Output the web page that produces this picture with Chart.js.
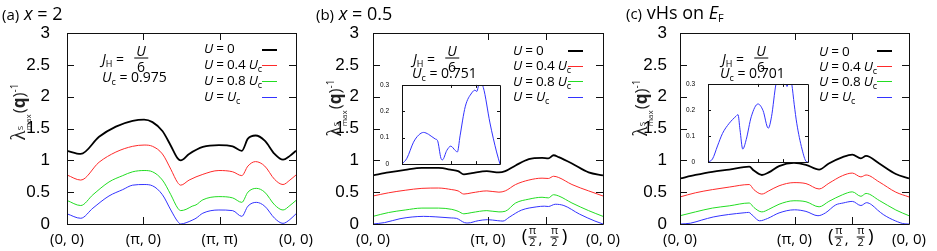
<!DOCTYPE html>
<html>
<head>
<meta charset="utf-8">
<script src="https://cdn.jsdelivr.net/npm/chart.js@4.4.1/dist/chart.umd.min.js"></script>
<style>
    body { margin: 0; background: #fff; }
    #wrap { position: relative; width: 937px; height: 251px; overflow: hidden; font-family: "Open Sans", sans-serif; color: #000; }
    canvas { position: absolute; }
    .t { position: absolute; white-space: nowrap; line-height: 1; transform: translateY(-50%); }
    .ttl { font-size: 18px; }
    .ttl .p { font-size: 15px; }
    .ann { font-size: 14px; }
    .ann sub, .lg sub { font-size: 9px; vertical-align: -3px; }
    .frac { position: absolute; display: flex; flex-direction: column; align-items: center; font-size: 14px; line-height: 13px; transform: translate(-50%, -50%); }
    .frac .n { border-bottom: 1px solid #000; padding: 0 2px 1px; }
    .frac .d { padding-top: 1px; }
    .lg { font-size: 13.5px; letter-spacing: -0.2px; }
    .smp { position: absolute; width: 15px; }
    .yt { position: absolute; white-space: nowrap; font-size: 17px; transform: translate(-50%, -50%) rotate(-90deg); color: #222; }
    .yt .lam { font-family: "Liberation Serif", serif; font-size: 21px; }
    .yt .ss { display: inline-flex; flex-direction: column; font-size: 8px; line-height: 8px; vertical-align: 2px; margin-right: 1px; }
    .yt sup { font-size: 10px; }
</style>
</head>
<body>
<div id="wrap">
    <canvas id="chartA" width="937" height="251"></canvas>
    <canvas id="chartB" width="937" height="251"></canvas>
    <canvas id="chartC" width="937" height="251"></canvas>
    <canvas id="insetB" width="125" height="97" style="left:380px;top:76px"></canvas>
    <canvas id="insetC" width="127" height="96" style="left:686px;top:75px"></canvas>

    <!-- titulos -->
    <div class="t ttl" style="left:2px;top:13px"><span class="p">(a)</span> <i>x</i> = 2</div>
    <div class="t ttl" style="left:316px;top:13px"><span class="p">(b)</span> <i>x</i> = 0.5</div>
    <div class="t ttl" style="left:626px;top:13px"><span class="p">(c)</span> vHs on <i>E</i><sub style="font-size:11px;vertical-align:-3px">F</sub></div>

    <!-- eixo y -->
    <div class="yt" style="left:19px;top:112px"><span class="lam">λ</span><span class="ss"><span>S</span><span>max</span></span>(<b>q</b>)<sup>-1</sup></div>
    <div class="yt" style="left:335px;top:108px"><span class="lam">λ</span><span class="ss"><span>S</span><span>max</span></span>(<b>q</b>)<sup>-1</sup></div>
    <div class="yt" style="left:641px;top:108px"><span class="lam">λ</span><span class="ss"><span>S</span><span>max</span></span>(<b>q</b>)<sup>-1</sup></div>

    <!-- anotacoes -->
    <div class="t ann" style="left:102px;top:60px"><i>J</i><sub>H</sub> =</div>
    <div class="frac" style="left:141px;top:58px"><span class="n"><i>U</i></span><span class="d">6</span></div>
    <div class="t ann" style="left:102px;top:78px"><i>U</i><sub>c</sub> = 0.975</div>

    <div class="t ann" style="left:413px;top:60px"><i>J</i><sub>H</sub> =</div>
    <div class="frac" style="left:452px;top:58px"><span class="n"><i>U</i></span><span class="d">6</span></div>
    <div class="t ann" style="left:412px;top:74px"><i>U</i><sub>c</sub> = 0.751</div>

    <div class="t ann" style="left:722px;top:60px"><i>J</i><sub>H</sub> =</div>
    <div class="frac" style="left:761px;top:58px"><span class="n"><i>U</i></span><span class="d">6</span></div>
    <div class="t ann" style="left:720px;top:74px"><i>U</i><sub>c</sub> = 0.701</div>

    <!-- legendas -->
    <div class="t lg" style="left:204px;top:49px"><i>U</i> = 0</div>
    <div class="t lg" style="left:204px;top:65px"><i>U</i> = 0.4 <i>U</i><sub>c</sub></div>
    <div class="t lg" style="left:204px;top:81px"><i>U</i> = 0.8 <i>U</i><sub>c</sub></div>
    <div class="t lg" style="left:204px;top:97px"><i>U</i> = <i>U</i><sub>c</sub></div>
    <div class="smp" style="left:262px;top:49px;height:2px;background:#000"></div>
    <div class="smp" style="left:262px;top:65px;height:1px;background:#ff2a2a"></div>
    <div class="smp" style="left:262px;top:81px;height:1px;background:#22dd22"></div>
    <div class="smp" style="left:262px;top:97px;height:1px;background:#3333ff"></div>

    <div class="t lg" style="left:513px;top:51px"><i>U</i> = 0</div>
    <div class="t lg" style="left:513px;top:66px"><i>U</i> = 0.4 <i>U</i><sub>c</sub></div>
    <div class="t lg" style="left:513px;top:82px"><i>U</i> = 0.8 <i>U</i><sub>c</sub></div>
    <div class="t lg" style="left:513px;top:97px"><i>U</i> = <i>U</i><sub>c</sub></div>
    <div class="smp" style="left:568px;top:50px;height:2px;background:#000"></div>
    <div class="smp" style="left:568px;top:66px;height:1px;background:#ff2a2a"></div>
    <div class="smp" style="left:568px;top:81px;height:1px;background:#22dd22"></div>
    <div class="smp" style="left:568px;top:97px;height:1px;background:#3333ff"></div>

    <div class="t lg" style="left:819px;top:52px"><i>U</i> = 0</div>
    <div class="t lg" style="left:819px;top:67px"><i>U</i> = 0.4 <i>U</i><sub>c</sub></div>
    <div class="t lg" style="left:819px;top:82px"><i>U</i> = 0.8 <i>U</i><sub>c</sub></div>
    <div class="t lg" style="left:819px;top:97px"><i>U</i> = <i>U</i><sub>c</sub></div>
    <div class="smp" style="left:877px;top:50px;height:2px;background:#000"></div>
    <div class="smp" style="left:877px;top:66px;height:1px;background:#ff2a2a"></div>
    <div class="smp" style="left:877px;top:81px;height:1px;background:#22dd22"></div>
    <div class="smp" style="left:877px;top:97px;height:1px;background:#3333ff"></div>
</div>

<script>
// (a) x = 2 : caminho (0,0)-(pi,0)-(pi,pi)-(0,0)
const aTicks = [0, 1, 2, 3];
const aTickLabels = ['(0, 0)', '(π, 0)', '(π, π)', '(0, 0)'];
const aX = [0, 0.18, 0.42, 0.64, 0.86, 1.01, 1.12, 1.25, 1.36, 1.45, 1.49, 1.60, 1.78, 1.99, 2.17, 2.29, 2.37, 2.47, 2.59, 2.72, 2.83, 2.92, 3.0];
const aU0 = [1.15, 1.10, 1.37, 1.53, 1.62, 1.64, 1.60, 1.46, 1.23, 1.03, 1.00, 1.10, 1.21, 1.24, 1.22, 1.15, 1.34, 1.39, 1.31, 1.10, 1.01, 1.07, 1.15];
const aU04 = [0.77, 0.69, 0.97, 1.13, 1.22, 1.24, 1.22, 1.10, 0.86, 0.65, 0.61, 0.69, 0.78, 0.84, 0.82, 0.76, 0.91, 0.98, 0.91, 0.70, 0.62, 0.69, 0.77];
const aXlow = [0, 0.18, 0.34, 0.55, 0.73, 0.86, 1.01, 1.12, 1.25, 1.36, 1.45, 1.49, 1.56, 1.64, 1.69, 1.78, 1.99, 2.17, 2.29, 2.37, 2.48, 2.59, 2.72, 2.83, 2.92, 3.0];
const aU08 = [0.37, 0.29, 0.46, 0.66, 0.76, 0.82, 0.84, 0.82, 0.69, 0.46, 0.25, 0.21, 0.23, 0.28, 0.30, 0.38, 0.43, 0.41, 0.34, 0.50, 0.56, 0.50, 0.30, 0.22, 0.29, 0.37];
const aUc = [0.16, 0.09, 0.25, 0.44, 0.54, 0.61, 0.62, 0.60, 0.46, 0.22, 0.04, 0.0, 0.02, 0.06, 0.09, 0.17, 0.22, 0.21, 0.12, 0.28, 0.34, 0.28, 0.09, 0.01, 0.07, 0.16];

// (b) x = 0.5 : caminho (0,0)-(pi,0)-(pi/2,pi/2)-(0,0)
const bTicks = [0, 2, 3, 4];
const bTickLabels = ['(0, 0)', '(π, 0)', 'frac', '(0, 0)'];
const bX = [0, 0.27, 0.56, 0.85, 1.14, 1.37, 1.48, 1.58, 1.72, 1.98, 2.19, 2.30, 2.48, 2.71, 2.94, 3.05, 3.14, 3.23, 3.46, 3.75, 4.0];
const bU0 = [0.765, 0.81, 0.85, 0.88, 0.88, 0.85, 0.83, 0.78, 0.80, 0.83, 0.81, 0.83, 0.92, 1.02, 1.04, 1.03, 1.08, 1.05, 0.95, 0.81, 0.765];
const bU04 = [0.44, 0.49, 0.53, 0.56, 0.565, 0.54, 0.52, 0.47, 0.49, 0.52, 0.50, 0.52, 0.62, 0.69, 0.72, 0.715, 0.75, 0.73, 0.62, 0.52, 0.44];
const bU08 = [0.12, 0.18, 0.22, 0.25, 0.25, 0.23, 0.20, 0.16, 0.18, 0.21, 0.19, 0.20, 0.33, 0.39, 0.42, 0.41, 0.46, 0.44, 0.33, 0.21, 0.12];
const bXc = [0, 0.2, 0.47, 0.68, 0.88, 1.08, 1.36, 1.45, 1.59, 1.65, 1.83, 1.99, 2.17, 2.26, 2.37, 2.58, 2.85, 2.98, 3.05, 3.17, 3.32, 3.59, 3.86, 4.0];
const bUc = [0, 0.022, 0.083, 0.11, 0.12, 0.113, 0.095, 0.089, 0.022, 0.016, 0.052, 0.068, 0.052, 0.046, 0.107, 0.217, 0.27, 0.28, 0.275, 0.31, 0.29, 0.156, 0.046, 0];

// (c) vHs on E_F
const cTicks = [0, 2, 3, 4];
const cTickLabels = ['(0, 0)', '(π, 0)', 'frac', '(0, 0)'];
const cX = [0, 0.27, 0.565, 0.86, 1.21, 1.29, 1.43, 1.55, 1.73, 1.99, 2.20, 2.43, 2.60, 2.84, 3.01, 3.16, 3.25, 3.48, 3.77, 4.0];
const cU0 = [0.715, 0.77, 0.82, 0.855, 0.90, 0.84, 0.77, 0.81, 0.91, 0.96, 0.93, 0.855, 0.95, 1.05, 1.09, 1.03, 1.07, 0.95, 0.785, 0.715];
const cU04 = [0.425, 0.49, 0.54, 0.58, 0.62, 0.54, 0.47, 0.52, 0.60, 0.65, 0.635, 0.55, 0.64, 0.76, 0.80, 0.74, 0.77, 0.66, 0.50, 0.425];
const cU08 = [0.13, 0.19, 0.25, 0.285, 0.33, 0.26, 0.19, 0.23, 0.31, 0.365, 0.35, 0.27, 0.355, 0.46, 0.505, 0.435, 0.48, 0.37, 0.22, 0.13];
const cXc = [0, 0.18, 0.38, 0.58, 0.85, 1.12, 1.2, 1.28, 1.39, 1.53, 1.73, 2.0, 2.2, 2.41, 2.54, 2.72, 2.85, 3.01, 3.16, 3.26, 3.35, 3.45, 3.55, 3.76, 3.93, 4.0];
const cUc = [0, 0.012, 0.062, 0.11, 0.149, 0.176, 0.182, 0.124, 0.05, 0.087, 0.174, 0.223, 0.198, 0.13, 0.174, 0.30, 0.33, 0.355, 0.29, 0.335, 0.30, 0.22, 0.149, 0.05, 0.002, 0];

const corPreto = '#000000';
const corVermelho = '#ff2a2a';
const corVerde = '#22dd22';
const corAzul = '#3333ff';

function pts(xs, ys) {
    return xs.map((x, i) => ({ x: x, y: ys[i] }));
}

// 3.0 -> "3", 0.30000000000000004 -> "0.3"
function fmtTick(value) {
    return String(Number(value.toFixed(2)));
}

function drawFracLabel(ctx, px, cy) {
    ctx.textAlign = 'center';
    ctx.textBaseline = 'middle';
    ctx.font = '19px "Open Sans"';
    ctx.fillText('(', px - 21, cy);
    ctx.fillText(')', px + 19, cy);
    ctx.font = '15px "Open Sans"';
    ctx.fillText(',', px - 5, cy + 3);
    ctx.font = '11px "Open Sans"';
    [px - 13, px + 9].forEach(fx => {
        ctx.fillText('π', fx, cy - 6);
        ctx.fillText('2', fx, cy + 6);
        ctx.fillRect(fx - 4, cy - 0.5, 8, 1);
    });
}

// moldura, ticks para dentro e rotulos do eixo x
const framePlugin = {
    id: 'frame',
    beforeDatasetsDraw(chart, args, opts) {
        if (!opts.fill) return;
        const a = chart.chartArea;
        chart.ctx.save();
        chart.ctx.fillStyle = '#fff';
        chart.ctx.fillRect(a.left, a.top, a.right - a.left, a.bottom - a.top);
        chart.ctx.restore();
    },
    afterDatasetsDraw(chart, args, opts) {
        const ctx = chart.ctx;
        const a = chart.chartArea;
        const sx = chart.scales.x;
        const sy = chart.scales.y;
        const len = opts.len || 7;
        ctx.save();
        ctx.strokeStyle = '#111';
        ctx.lineWidth = 1;
        ctx.beginPath();
        ctx.rect(Math.round(a.left) + 0.5, Math.round(a.top) + 0.5, Math.round(a.right - a.left), Math.round(a.bottom - a.top));
        sy.ticks.forEach(t => {
            const py = Math.round(sy.getPixelForValue(t.value)) + 0.5;
            ctx.moveTo(a.left, py); ctx.lineTo(a.left + len, py);
            ctx.moveTo(a.right, py); ctx.lineTo(a.right - len, py);
        });
        (opts.xTicks || []).forEach(v => {
            const px = Math.round(sx.getPixelForValue(v)) + 0.5;
            ctx.moveTo(px, a.bottom); ctx.lineTo(px, a.bottom - len);
            ctx.moveTo(px, a.top); ctx.lineTo(px, a.top + len);
        });
        ctx.stroke();

        ctx.fillStyle = '#000';
        (opts.labels || []).forEach((lab, i) => {
            const px = sx.getPixelForValue(opts.xTicks[i]);
            if (lab === 'frac') {
                drawFracLabel(ctx, px, a.bottom + 13);
            } else {
                ctx.font = '15px "Open Sans"';
                ctx.textAlign = 'center';
                ctx.textBaseline = 'middle';
                ctx.fillText(lab, px, a.bottom + 16);
            }
        });
        ctx.restore();
    }
};

function criarGrafico(id, datasets, xMax, ticks, labels, padL, padR, tickPad) {
    const ctx = document.getElementById(id).getContext('2d');
    return new Chart(ctx, {
        type: 'line',
        data: { datasets: datasets },
        options: {
            responsive: false,
            animation: false,
            layout: { padding: { left: padL, right: padR, top: 33, bottom: 27 } },
            elements: {
                point: { radius: 0 },
                line: { cubicInterpolationMode: 'monotone' }
            },
            plugins: {
                legend: { display: false },
                tooltip: { enabled: false },
                frame: { xTicks: ticks, labels: labels, len: 7 }
            },
            scales: {
                x: { type: 'linear', display: false, min: 0, max: xMax },
                y: {
                    min: 0,
                    max: 3,
                    afterFit: (scale) => { scale.width = 40; },
                    grid: { display: false },
                    border: { display: false },
                    ticks: {
                        stepSize: 0.5,
                        padding: tickPad,
                        color: '#000',
                        callback: fmtTick,
                        font: { family: 'Liberation Sans', size: 17 }
                    }
                }
            }
        },
        plugins: [framePlugin]
    });
}

function criarInset(id, xs, ys, ticks) {
    const ctx = document.getElementById(id).getContext('2d');
    return new Chart(ctx, {
        type: 'line',
        data: {
            datasets: [{ data: pts(xs, ys), borderColor: corAzul, borderWidth: 1 }]
        },
        options: {
            responsive: false,
            animation: false,
            layout: { padding: { left: 0, right: 5, top: 8, bottom: 7 } },
            elements: {
                point: { radius: 0 },
                line: { cubicInterpolationMode: 'monotone' }
            },
            plugins: {
                legend: { display: false },
                tooltip: { enabled: false },
                frame: { xTicks: ticks, labels: [], len: 3, fill: true }
            },
            scales: {
                x: { type: 'linear', display: false, min: 0, max: 4 },
                y: {
                    min: 0,
                    max: 0.3,
                    afterFit: (scale) => { scale.width = 22; },
                    grid: { display: false },
                    border: { display: false },
                    ticks: {
                        stepSize: 0.1,
                        padding: 5,
                        color: '#000',
                        callback: fmtTick,
                        font: { family: 'Liberation Sans', size: 6.5 }
                    }
                }
            }
        },
        plugins: [framePlugin]
    });
}

function serie(xs, ys, cor, largura) {
    return { data: pts(xs, ys), borderColor: cor, borderWidth: largura };
}

criarGrafico('chartA', [
    serie(aX, aU0, corPreto, 1.8),
    serie(aX, aU04, corVermelho, 1),
    serie(aXlow, aU08, corVerde, 1),
    serie(aXlow, aUc, corAzul, 1)
], 3, aTicks, aTickLabels, 27, 641, 9);

criarGrafico('chartB', [
    serie(bX, bU0, corPreto, 1.8),
    serie(bX, bU04, corVermelho, 1),
    serie(bX, bU08, corVerde, 1),
    serie(bXc, bUc, corAzul, 1)
], 4, bTicks, bTickLabels, 333, 334, 6);

criarGrafico('chartC', [
    serie(cX, cU0, corPreto, 1.8),
    serie(cX, cU04, corVermelho, 1),
    serie(cX, cU08, corVerde, 1),
    serie(cXc, cUc, corAzul, 1)
], 4, cTicks, cTickLabels, 640, 28, 5);

criarInset('insetB', bXc, bUc, [2, 3]);
criarInset('insetC', cXc, cUc, [2, 3]);
</script>
</body>
</html>
